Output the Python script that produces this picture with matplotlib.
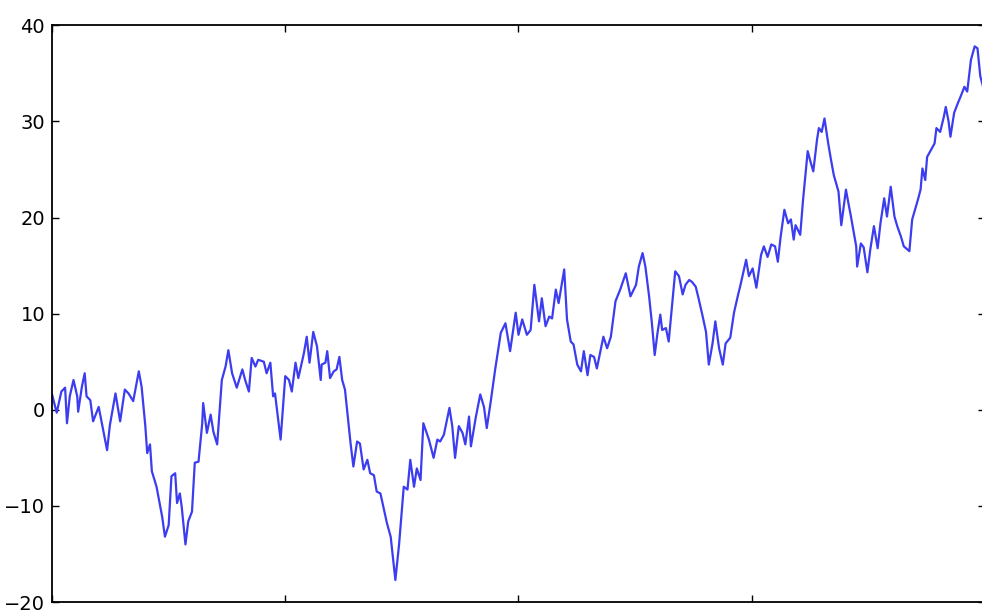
import matplotlib
matplotlib.use('Agg')
import matplotlib.pyplot as plt

# Random walk: step index and cumulative value
steps = [0, 5, 10, 14, 16, 19, 23, 27, 28, 32, 35, 37, 41, 44, 50, 53, 59, 62, 68, 73,
         78, 82, 87, 93, 96, 100, 102, 105, 107, 112, 118, 121, 125, 128, 132, 134, 137, 139, 143, 146,
         150, 153, 157, 161, 162, 166, 170, 173, 177, 182, 186, 189, 193, 198, 204, 207, 211, 214, 218, 221,
         227, 230, 234, 237, 239, 245, 250, 254, 257, 261, 264, 270, 273, 276, 280, 284, 288, 289, 293, 295,
         298, 302, 305, 308, 311, 314, 320, 323, 327, 330, 334, 338, 341, 345, 348, 352, 359, 363, 368, 372,
         377, 381, 384, 388, 391, 395, 398, 404, 409, 413, 416, 420, 426, 429, 432, 436, 440, 443, 447, 449,
         454, 459, 463, 466, 470, 475, 481, 486, 491, 497, 500, 504, 509, 513, 517, 522, 525, 529, 533, 536,
         540, 543, 549, 552, 556, 559, 563, 567, 570, 574, 577, 581, 584, 587, 591, 595, 599, 604, 609, 615,
         620, 626, 629, 633, 636, 640, 643, 646, 649, 652, 654, 658, 661, 665, 668, 672, 676, 679, 683, 686,
         690, 693, 697, 701, 704, 708, 711, 715, 719, 722, 727, 731, 735, 738, 744, 747, 751, 755, 760, 763,
         767, 771, 775, 778, 781, 785, 789, 792, 795, 797, 802, 805, 810, 813, 816, 820, 822, 825, 828, 832,
         835, 838, 843, 846, 851, 854, 856, 862, 863, 867, 870, 874, 877, 881, 885, 888, 892, 895, 899, 903,
         906, 910, 913, 919, 922, 928, 931, 933, 936, 938, 942, 946, 948, 952, 956, 958, 961, 963, 967, 971,
         974, 978, 981, 985, 989, 992, 995, 998]
walk = [1.6, -0.3, 1.9, 2.3, -1.4, 1.4, 3.1, 1.4, -0.2, 2.4, 3.8, 1.4, 1.0, -1.2, 0.3, -1.2, -4.2, -1.6, 1.7, -1.2,
        2.1, 1.7, 0.9, 4.0, 2.4, -1.7, -4.5, -3.6, -6.4, -8.0, -11.1, -13.2, -12.0, -6.9, -6.6, -9.7, -8.7, -10.1, -14.0, -11.6,
        -10.6, -5.5, -5.4, -1.4, 0.7, -2.4, -0.5, -2.3, -3.6, 3.1, 4.5, 6.2, 3.8, 2.3, 4.2, 3.1, 1.9, 5.4, 4.5, 5.2,
        5.0, 3.8, 4.9, 1.4, 1.7, -3.1, 3.5, 3.1, 1.9, 4.9, 3.3, 5.9, 7.6, 4.9, 8.1, 6.6, 3.1, 4.7, 4.9, 6.1,
        3.3, 4.0, 4.2, 5.5, 3.1, 2.1, -3.5, -5.9, -3.3, -3.5, -6.2, -5.2, -6.6, -6.8, -8.5, -8.7, -11.8, -13.2, -17.7, -14.0,
        -8.0, -8.3, -5.2, -8.0, -6.1, -7.3, -1.4, -3.1, -5.0, -3.1, -3.3, -2.6, 0.2, -1.7, -5.0, -1.7, -2.4, -3.6, -0.7, -3.8,
        -0.9, 1.6, 0.3, -1.9, 0.7, 4.2, 8.0, 9.0, 6.1, 10.1, 7.8, 9.4, 7.8, 8.3, 13.0, 9.2, 11.6, 8.7, 9.7, 9.5,
        12.5, 11.1, 14.6, 9.4, 7.1, 6.8, 4.7, 4.0, 6.1, 3.6, 5.7, 5.5, 4.3, 5.7, 7.6, 6.4, 7.6, 11.3, 12.5, 14.2,
        11.8, 13.0, 14.9, 16.3, 14.9, 11.8, 9.0, 5.7, 8.0, 9.9, 8.3, 8.5, 7.1, 11.3, 14.4, 13.9, 12.0, 13.0, 13.5, 13.3,
        12.8, 11.6, 9.9, 8.1, 4.7, 6.9, 9.2, 6.4, 4.7, 6.9, 7.5, 10.1, 11.8, 13.0, 15.6, 13.9, 14.7, 12.7, 16.1, 17.0,
        15.9, 17.2, 17.0, 15.4, 18.0, 20.8, 19.4, 19.8, 17.7, 19.2, 18.2, 21.8, 26.9, 25.8, 24.8, 28.1, 29.3, 28.9, 30.3, 27.7,
        26.0, 24.4, 22.7, 19.2, 22.9, 21.3, 20.3, 17.0, 14.9, 17.3, 16.9, 14.3, 16.6, 19.1, 16.8, 19.4, 22.0, 20.1, 23.2, 20.1,
        19.1, 18.0, 17.0, 16.5, 19.8, 21.8, 22.9, 25.1, 23.9, 26.3, 27.0, 27.7, 29.3, 28.9, 30.5, 31.5, 30.0, 28.4, 30.9, 31.9,
        32.6, 33.6, 33.1, 36.4, 37.8, 37.6, 34.7, 33.6]

x_ticks = [0, 250, 500, 750, 1000]
y_ticks = [-20, -10, 0, 10, 20, 30, 40]


def main():
    fig = plt.figure(figsize=(9.82, 6.15), dpi=100)
    ax = fig.add_axes([0.053, 0.021, 0.95, 0.938])

    ax.plot(steps, walk, color='#3c3cf0', linewidth=1.6)

    ax.set_xlim(0, 1000)
    ax.set_ylim(-20, 40)
    ax.set_xticks(x_ticks)
    ax.set_yticks(y_ticks)
    ax.set_xticklabels([])
    ax.tick_params(direction='in', length=5, width=1, top=True, right=True,
                   labelsize=14, pad=5)
    for spine in ax.spines.values():
        spine.set_linewidth(1.3)

    fig.savefig('out.png', dpi=100)
    plt.close(fig)


if __name__ == "__main__":
    main()
